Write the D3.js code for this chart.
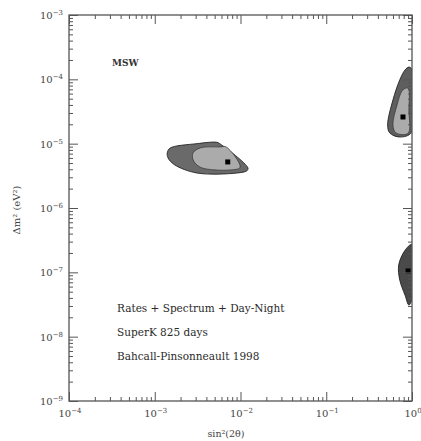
<!DOCTYPE html>
<html>
<head>
<meta charset="utf-8">
<script src="https://cdn.jsdelivr.net/npm/d3@7"></script>
<style>
html,body{margin:0;padding:0;background:#fff;}
svg{display:block;}
</style>
</head>
<body>
<svg id="chart" width="421" height="441"></svg>
<script>
// ---- data (sin^2(2theta), delta m^2 in eV^2) ----
const xDomain = [1e-4, 1];
const yDomain = [1e-9, 1e-3];
const xMajorTicks = [1e-4, 1e-3, 1e-2, 1e-1, 1];
const yMajorTicks = [1e-9, 1e-8, 1e-7, 1e-6, 1e-5, 1e-4, 1e-3];
const xTickExponents = ["-4", "-3", "-2", "-1", "0"];
const yTickExponents = ["-9", "-8", "-7", "-6", "-5", "-4", "-3"];

// SMA (MSW) region
const smaOuter = [[1.4e-3,7.2e-6],[1.5e-3,8.5e-6],[3.1e-3,1.0e-5],[5.3e-3,1.05e-5],[5.8e-3,9.9e-6],[1.22e-2,4.2e-6],[1.19e-2,3.8e-6],[9.1e-3,3.5e-6],[3.1e-3,3.5e-6],[1.7e-3,4.7e-6],[1.43e-3,6.0e-6]];
const smaInner = [[2.8e-3,7.2e-6],[3.4e-3,8.6e-6],[5.8e-3,8.9e-6],[6.8e-3,8.9e-6],[9.9e-3,4.3e-6],[7.6e-3,3.9e-6],[3.4e-3,4.3e-6],[2.8e-3,5.6e-6]];
const smaBest = [7.1e-3, 5.2e-6];

// LMA region
const lmaOuter = [[0.92,1.55e-4],[0.99,1.45e-4],[0.99,1.5e-5],[0.72,1.27e-5],[0.55,1.47e-5],[0.52,1.95e-5],[0.6,4.8e-5],[0.72,9.8e-5],[0.83,1.4e-4]];
const lmaInner = [[0.65,1.47e-5],[0.60,1.95e-5],[0.67,4.0e-5],[0.78,6.8e-5],[0.90,7.3e-5],[0.92,3.3e-5],[0.90,1.45e-5]];
const lmaBest = [0.785, 2.6e-5];

// LOW region
const lowOuter = [[0.99,2.7e-7],[0.83,2.2e-7],[0.70,1.3e-7],[0.72,7.6e-8],[0.83,4.4e-8],[0.92,3.1e-8],[0.99,3.7e-8]];
const lowBest = [0.9, 1.05e-7];

const regionLabel = "MSW";
const notes = ["Rates + Spectrum + Day-Night", "SuperK 825 days", "Bahcall-Pinsonneault 1998"];
const xTitle = "sin²(2θ)";
const yTitle = "Δm² (eV²)";

// ---- drawing ----
const svg = d3.select("#chart");
const L = 69, R = 412, T = 15, B = 401;
const x = d3.scaleLog().domain(xDomain).range([L, R]);
const y = d3.scaleLog().domain(yDomain).range([B, T]);

function minorTicks(domain) {
  const out = [];
  const lo = Math.round(Math.log10(domain[0])), hi = Math.round(Math.log10(domain[1]));
  for (let e = lo; e < hi; e++) for (let m = 2; m <= 9; m++) out.push(m * Math.pow(10, e));
  return out;
}
const xMinor = minorTicks(xDomain), yMinor = minorTicks(yDomain);

const line = d3.line().x(d => x(d[0])).y(d => y(d[1])).curve(d3.curveCatmullRomClosed.alpha(0.5));

const plot = svg.append("g");
plot.append("defs").append("clipPath").attr("id","clip")
  .append("rect").attr("x",L).attr("y",T).attr("width",R-L).attr("height",B-T);
const regions = plot.append("g").attr("clip-path","url(#clip)");

function region(outer, inner, best, outerFill) {
  regions.append("path").attr("d", line(outer)).attr("fill", outerFill).attr("stroke","#222").attr("stroke-width",0.9);
  if (inner) regions.append("path").attr("d", line(inner)).attr("fill","#ababab").attr("stroke","#333").attr("stroke-width",0.7);
  regions.append("rect").attr("x", x(best[0])-2.5).attr("y", y(best[1])-2.5).attr("width",5).attr("height",5).attr("fill","#000");
}
region(smaOuter, smaInner, smaBest, "#6a6a6a");
region(lmaOuter, lmaInner, lmaBest, "#5e5e5e");
region(lowOuter, null, lowBest, "#4a4a4a");

// axes
const axisColor = "#555";
function styleAxis(g) {
  g.select(".domain").remove();
  g.selectAll("line").attr("stroke", axisColor).attr("stroke-width", 1);
}
const majorLen = 9, minorLen = 4;
// bottom
svg.append("g").attr("transform",`translate(0,${B})`).call(d3.axisBottom(x).tickValues(xMinor).tickSize(-minorLen).tickFormat("")).call(styleAxis);
svg.append("g").attr("transform",`translate(0,${B})`).call(d3.axisBottom(x).tickValues(xMajorTicks).tickSize(-majorLen).tickFormat("")).call(styleAxis);
// top
svg.append("g").attr("transform",`translate(0,${T})`).call(d3.axisTop(x).tickValues(xMinor).tickSize(-minorLen).tickFormat("")).call(styleAxis);
svg.append("g").attr("transform",`translate(0,${T})`).call(d3.axisTop(x).tickValues(xMajorTicks).tickSize(-majorLen).tickFormat("")).call(styleAxis);
// left
svg.append("g").attr("transform",`translate(${L},0)`).call(d3.axisLeft(y).tickValues(yMinor).tickSize(-minorLen).tickFormat("")).call(styleAxis);
svg.append("g").attr("transform",`translate(${L},0)`).call(d3.axisLeft(y).tickValues(yMajorTicks).tickSize(-majorLen).tickFormat("")).call(styleAxis);
// right
svg.append("g").attr("transform",`translate(${R},0)`).call(d3.axisRight(y).tickValues(yMinor).tickSize(-minorLen).tickFormat("")).call(styleAxis);
svg.append("g").attr("transform",`translate(${R},0)`).call(d3.axisRight(y).tickValues(yMajorTicks).tickSize(-majorLen).tickFormat("")).call(styleAxis);

// frame
svg.append("rect").attr("x",L).attr("y",T).attr("width",R-L).attr("height",B-T)
  .attr("fill","none").attr("stroke",axisColor).attr("stroke-width",1.3);

const font = "DejaVu Serif";
const labelColor = "#444";
// tick labels with superscripts
function powLabel(g, px, py, exp, anchor) {
  const t = g.append("text").attr("x",px).attr("y",py).attr("text-anchor",anchor)
    .attr("font-family",font).attr("font-size",10).attr("fill",labelColor);
  t.append("tspan").text("10");
  t.append("tspan").attr("dy",-4).attr("font-size",7).text(exp.replace("-","−"));
}
const labels = svg.append("g");
xMajorTicks.forEach((v,i) => powLabel(labels, x(v)+1, B+16, xTickExponents[i], "middle"));
yMajorTicks.forEach((v,i) => powLabel(labels, L-6, y(v)+4, yTickExponents[i], "end"));

// axis titles
svg.append("text").attr("x", 226).attr("y", 437).attr("text-anchor","middle")
  .attr("font-family",font).attr("font-size",9.5).attr("fill",labelColor).text(xTitle);
svg.append("text").attr("transform","translate(20,210) rotate(-90)").attr("text-anchor","middle")
  .attr("font-family",font).attr("font-size",10).attr("fill",labelColor).text(yTitle);

// annotations
svg.append("text").attr("x",112).attr("y",66).attr("font-family",font).attr("font-size",9)
  .attr("font-weight","bold").attr("fill","#333").text(regionLabel);
notes.forEach((s,i) => svg.append("text").attr("x",117).attr("y",312 + i*24)
  .attr("font-family",font).attr("font-size",10.5).attr("fill","#2a2a2a").text(s));
</script>
</body>
</html>
